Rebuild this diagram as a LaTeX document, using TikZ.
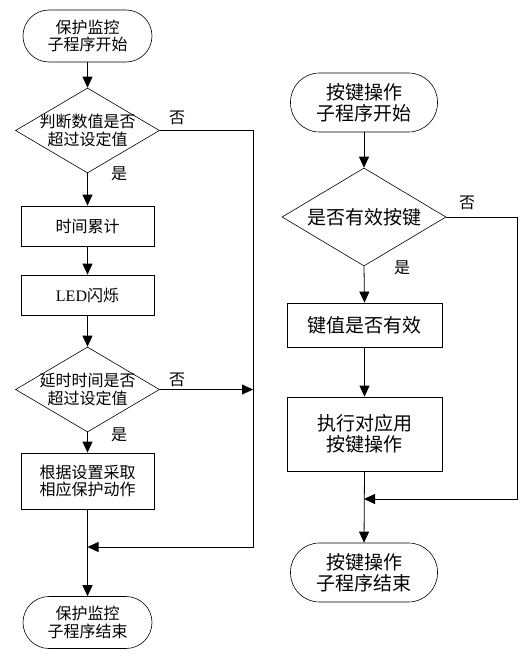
\documentclass[tikz,border=0pt]{standalone}
\usepackage{fontspec}
\setmainfont{Liberation Serif}
\newfontfamily\cjk{Noto Sans CJK SC}
\usetikzlibrary{shapes.geometric,arrows.meta}
\begin{document}
\begin{tikzpicture}[x=1pt,y=-1pt,
  every node/.style={font=\cjk\fontsize{16}{17.5}\selectfont, align=center, inner sep=0pt},
  big/.style={font=\cjk\fontsize{19}{21}\selectfont},
  line/.style={line width=0.8pt},
  arr/.style={line width=0.8pt, -{Triangle[length=11pt,width=10pt]}},
  termL/.style={draw, line width=0.6pt, rounded corners=26pt, minimum width=129pt, minimum height=52pt},
  termR/.style={draw, line width=0.6pt, rounded corners=29pt, minimum width=147pt, minimum height=59pt, big},
  dia/.style={draw, diamond, line width=0.6pt, inner sep=0pt},
  boxL/.style={draw, line width=0.8pt, minimum width=133pt},
  boxR/.style={draw, line width=0.8pt, minimum width=155pt, big},
  lab/.style={font=\cjk\fontsize{16}{16}\selectfont}
]
\useasboundingbox (0,0) rectangle (529,658);
% ---------- left flow ----------
\node[termL] (s1) at (87.5,36) {保护监控\\子程序开始};
\node[dia, minimum width=144pt, minimum height=85pt] (d1) at (87.5,130.5) {};
\node at (87.5,130.5) {判断数值是否\\超过设定值};
\node[boxL, minimum height=40pt] (b1) at (87.5,226) {时间累计};
\node[boxL, minimum height=40pt] (b2) at (87.5,295) {{\rmfamily LED}闪烁};
\node[dia, minimum width=144pt, minimum height=85pt] (d2) at (87.5,389.5) {};
\node at (87.5,389.5) {延时时间是否\\超过设定值};
\node[boxL, minimum height=56pt] (b3) at (87.5,481) {根据设置采取\\相应保护动作};
\node[termL] (e1) at (87.5,622.5) {保护监控\\子程序结束};

\node[lab] (n1) at (177,118) {否};
\node[lab] (y1) at (119,174) {是};
\node[lab] (n2) at (177,380) {否};
\node[lab] (y2) at (119,435) {是};

\coordinate (c1) at (253,130.5);
\coordinate (c2) at (253,547);
\coordinate (j1) at (87.5,547);
\coordinate (c3) at (253,389.5);

\draw[arr] (s1.south) -- (d1.north);
\draw[arr] (d1.south) -- (b1.north);
\draw[arr] (b1.south) -- (b2.north);
\draw[arr] (b2.south) -- (d2.north);
\draw[arr] (d2.south) -- (b3.north);
\draw[arr] (b3.south) -- (e1.north);
\draw[arr] (d1.east) -- (c1) -- (c2) -- (j1);
\draw[arr] (d2.east) -- (c3);

% ---------- right flow ----------
\node[termR] (s2) at (364,102.5) {按键操作\\子程序开始};
\node[dia, minimum width=164pt, minimum height=98pt] (d3) at (364,217) {};
\node[big] at (364,217) {是否有效按键};
\node[boxR, minimum height=44pt] (b4) at (364.5,325) {键值是否有效};
\node[boxR, minimum height=74pt] (b5) at (364.5,434) {执行对应用\\按键操作};
\node[termR] (e2) at (364,572.5) {按键操作\\子程序结束};

\node[lab] (n3) at (467,203) {否};
\node[lab] (y3) at (402,268) {是};

\coordinate (c4) at (517,217);
\coordinate (c5) at (517,499);
\coordinate (j2) at (364,499);

\draw[arr] (s2.south) -- (d3.north);
\draw[arr] (d3.south) -- (b4.north);
\draw[arr] (b4.south) -- (b5.north);
\draw[arr] (b5.south) -- (e2.north);
\draw[arr] (d3.east) -- (c4) -- (c5) -- (j2);
\end{tikzpicture}
\end{document}
